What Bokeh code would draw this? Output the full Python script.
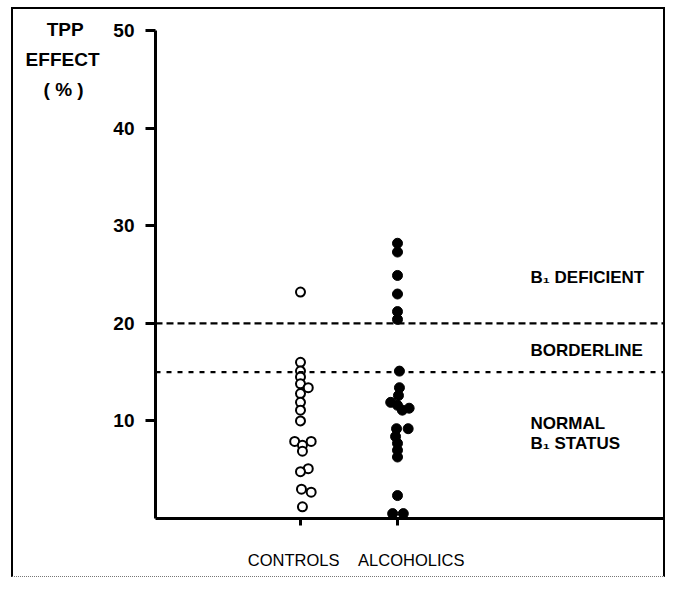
from bokeh.plotting import figure
from bokeh.models import Span, Label, FixedTicker, LinearAxis
from bokeh.embed import file_html
from bokeh.resources import INLINE

# ---- data ----
groups = ["CONTROLS", "ALCOHOLICS"]

controls_values = [23.2, 16.0, 15.1, 14.5, 13.8, 13.4, 12.8, 11.9, 11.1, 10.0,
                   7.9, 7.9, 7.5, 6.9, 5.1, 4.8, 3.0, 2.7, 1.2]
# horizontal spread of overlapping points (fraction of group spacing)
controls_jitter = [0, 0, 0, 0, 0, 0.08, 0, 0, 0, 0,
                   -0.06, 0.11, 0.02, 0.02, 0.08, 0, 0.01, 0.11, 0.02]

alcoholics_values = [28.2, 27.3, 24.9, 23.0, 21.2, 20.4, 15.1, 13.4, 12.6, 11.9,
                     11.6, 11.3, 11.1, 9.2, 9.2, 8.4, 7.7, 7.0, 6.3, 2.35, 0.5, 0.5]
alcoholics_jitter = [0, 0, 0, 0, 0, 0, 0.02, 0.02, 0.01, -0.07,
                     0, 0.12, 0.05, 0.11, -0.01, -0.02, 0, 0, 0, 0, -0.05, 0.06]

y_ticks = [10, 20, 30, 40, 50]
deficient_threshold = 20
borderline_threshold = 15
zone_texts = ["B\u2081 DEFICIENT", "BORDERLINE", "NORMAL", "B\u2081 STATUS"]
zone_text_y = [24.7, 17.2, 9.7, 7.65]
ylabel_lines = ["TPP\u00a0\u00a0\u00a0", "EFFECT", "(\u00a0%\u00a0)\u00a0\u00a0\u00a0"]
ylabel_y = [50.1, 47.0, 43.95]
# non-breaking padding so the two group names sit as in the original
group_tick_labels = ["CONTROLS\u00a0\u00a0\u00a0", "\u00a0\u00a0\u00a0\u00a0\u00a0\u00a0ALCOHOLICS"]

FONT = "Liberation Sans"

p = figure(width=654, height=570,
           x_range=(-0.4948, 4.7835), y_range=(0, 52.15),
           output_backend="svg", toolbar_location=None,
           min_border_left=142, min_border_right=0,
           min_border_top=0, min_border_bottom=61,
           styles={"border": "2px solid black",
                   "border-bottom": "1px dotted #777",
                   "margin-left": "11px", "margin-top": "7px"})
p.background_fill_color = "white"
p.border_fill_color = "white"
p.outline_line_color = None
p.grid.visible = False

# y axis
p.yaxis.ticker = FixedTicker(ticks=y_ticks)
p.yaxis.bounds = (0, 50)
p.yaxis.axis_line_width = 3
p.yaxis.axis_line_color = "black"
p.yaxis.major_tick_line_width = 3
p.yaxis.major_tick_out = 10
p.yaxis.major_tick_in = 0
p.yaxis.minor_tick_line_color = None
p.yaxis.major_label_standoff = 11
p.yaxis.major_label_text_font = FONT
p.yaxis.major_label_text_font_style = "bold"
p.yaxis.major_label_text_font_size = "19px"
p.yaxis.major_label_text_color = "black"

# y axis title, stacked horizontally at the top left (label-only axis)
title_axis = LinearAxis(ticker=FixedTicker(ticks=ylabel_y),
                        major_label_overrides=dict(zip(ylabel_y, ylabel_lines)),
                        axis_line_color=None, major_tick_line_color=None,
                        minor_tick_line_color=None, major_label_standoff=5,
                        major_label_text_font=FONT,
                        major_label_text_font_style="bold",
                        major_label_text_font_size="19px",
                        major_label_text_color="black")
p.add_layout(title_axis, "left")

# x axis with the group names
xpos = [1, 2]
p.xaxis.ticker = FixedTicker(ticks=xpos)
p.xaxis.major_label_overrides = dict(zip(xpos, group_tick_labels))
p.xaxis.axis_line_width = 3
p.xaxis.axis_line_color = "black"
p.xaxis.major_tick_line_width = 3
p.xaxis.major_tick_out = 7
p.xaxis.major_tick_in = 0
p.xaxis.minor_tick_line_color = None
p.xaxis.major_label_standoff = 25
p.xaxis.major_label_text_font = FONT
p.xaxis.major_label_text_font_size = "16.5px"
p.xaxis.major_label_text_color = "black"

# threshold lines
p.add_layout(Span(location=deficient_threshold, dimension="width",
                  line_color="black", line_width=2.2, line_dash="7 4"))
p.add_layout(Span(location=borderline_threshold, dimension="width",
                  line_color="black", line_width=2.2, line_dash="5 6"))

# points
cx = [xpos[0] + j for j in controls_jitter]
ax = [xpos[1] + j for j in alcoholics_jitter]
p.scatter(cx, controls_values, marker="circle", size=9, line_width=2,
          fill_color="white", line_color="black")
p.scatter(ax, alcoholics_values, marker="circle", size=10, line_width=1,
          fill_color="black", line_color="black")

# zone labels
for t, yv in zip(zone_texts, zone_text_y):
    p.add_layout(Label(x=3.371, y=yv, text=t, text_font=FONT,
                       text_font_style="bold", text_font_size="17px",
                       text_baseline="middle", text_align="left",
                       text_color="black"))

open("out.html", "w").write(file_html(p, INLINE))
